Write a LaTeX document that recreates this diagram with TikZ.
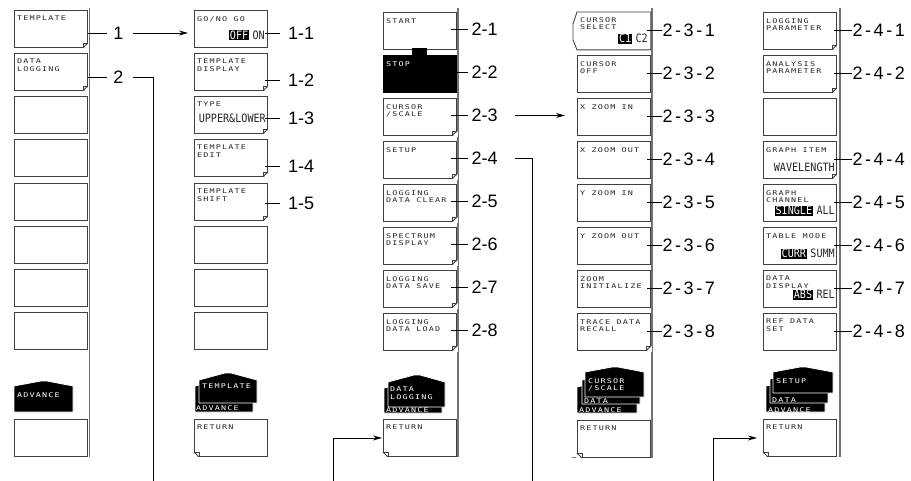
\documentclass[tikz,border=0pt]{standalone}
\usepackage{fontspec}
\setmainfont{Liberation Sans}
\newfontfamily\btnfont[FakeStretch=1.3,LetterSpace=18]{DejaVu Sans Mono}
\newfontfamily\bigfont[FakeStretch=0.88]{DejaVu Sans Mono}
\newfontfamily\widelbl[LetterSpace=14]{Liberation Sans}
\usetikzlibrary{arrows.meta}
\tikzset{
 btnline/.style={draw=black!75, line width=0.9pt},
 btn/.style={btnline, fill=white, minimum width=73pt, minimum height=37pt, inner sep=0pt, anchor=north west},
 stxt/.style={font=\btnfont\fontsize{6.5}{7.5}\selectfont, text=black!85, align=left, anchor=north west, inner sep=0pt},
 wtxt/.style={stxt, text=white},
 big/.style={font=\bigfont\fontsize{11.5}{12}\selectfont, text=black!85, inner sep=0pt, anchor=base east},
 inv/.style={big, fill=black, text=white, inner xsep=1pt, inner ysep=0.6pt},
 lbl/.style={font=\fontsize{18}{18}\selectfont, inner sep=0pt},
 wlbl/.style={font=\widelbl\fontsize{18}{18}\selectfont, inner sep=0pt},
 rail/.style={draw=black!55, line width=1.6pt},
 leader/.style={draw=black, line width=0.9pt},
 conn/.style={draw=black, line width=0.9pt},
 arr/.style={conn, -{Stealth[length=9pt,width=5pt]}},
 stack/.style={fill=black, draw=white, line width=0.8pt},
 fold/.style={draw=black!75, line width=0.6pt},
}
\newcommand\Btn[4]{\node[btn] (#1) at (#2,#3) {};\node[stxt] (#1t) at ([shift={(3pt,-6pt)}]#1.north west) {#4};}
\newcommand\Blank[3]{\node[btn] (#1) at (#2,#3) {};}
\newcommand\FoldR[1]{%
 \fill[white] ([shift={(-5pt,-1pt)}]#1.south east) -- ([shift={(1pt,-1pt)}]#1.south east) -- ([shift={(1pt,5pt)}]#1.south east) -- cycle;
 \draw[btnline] ([xshift=-5pt]#1.south east) -- ([yshift=5pt]#1.south east);
 \draw[fold] ([xshift=-5pt]#1.south east) -- ([shift={(-5pt,5pt)}]#1.south east) -- ([yshift=5pt]#1.south east);}
\newcommand\FoldL[1]{%
 \fill[white] ([shift={(5pt,-1pt)}]#1.south west) -- ([shift={(-1pt,-1pt)}]#1.south west) -- ([shift={(-1pt,5pt)}]#1.south west) -- cycle;
 \draw[btnline] ([xshift=5pt]#1.south west) -- ([yshift=5pt]#1.south west);
 \draw[fold] ([xshift=5pt]#1.south west) -- ([shift={(5pt,5pt)}]#1.south west) -- ([yshift=5pt]#1.south west);}
% x1, x2, side top, peak top, peak x, bottom
\newcommand\House[6]{\path[stack] (#1,#3) -- ({#5-3},#4) -- ({#5+3},#4) -- (#2,#3) -- (#2,#6) -- (#1,#6) -- cycle;}
\begin{document}
\begin{tikzpicture}[x=1pt,y=-1pt]
\useasboundingbox (0,0) rectangle (911,481);
% rails
\draw[rail] (89.5,8) -- (89.5,457);
\draw[rail] (458,8) -- (458,457);
\draw[rail] (572,457.5) -- (652,457.5) -- (652,8);
\draw[rail] (840,8) -- (840,457);

% ---------- column 1
\Btn{c1b1}{14}{10}{TEMPLATE}
\Btn{c1b2}{14}{53}{DATA\\LOGGING}
\Blank{c1b3}{14}{96}
\Blank{c1b4}{14}{139}
\Blank{c1b5}{14}{183}
\Blank{c1b6}{14}{226}
\Blank{c1b7}{14}{269}
\Blank{c1b8}{14}{312}
\Blank{c1ret}{14}{419}
\FoldR{c1b1}\FoldR{c1b2}
\House{14}{73}{386}{381}{44}{412}
\node[wtxt] (s1a) at (17,392) {ADVANCE};

% ---------- column 2
\Btn{c2b1}{194}{10}{GO/NO GO}
\node[big] (c2on) at (265,39.5) {ON};
\node[inv] (c2off) at ([xshift=-3pt]c2on.base west) {OFF};
\Btn{c2b2}{194}{53}{TEMPLATE\\DISPLAY}
\Btn{c2b3}{194}{96}{TYPE}
\node[big] (c2ul) at (266,123) {UPPER\&LOWER};
\Btn{c2b4}{194}{139}{TEMPLATE\\EDIT}
\Btn{c2b5}{194}{183}{TEMPLATE\\SHIFT}
\Blank{c2b6}{194}{226}
\Blank{c2b7}{194}{269}
\Blank{c2b8}{194}{312}
\Btn{c2ret}{194}{419}{RETURN}
\FoldR{c2b2}\FoldR{c2b3}\FoldR{c2b4}\FoldR{c2b5}\FoldL{c2ret}
\House{195}{253}{386}{380}{224}{412}
\House{199}{257}{380}{373}{228}{403}
\node[wtxt] (s2b) at (202,384) {TEMPLATE};
\node[wtxt] (s2a) at (196,405.5) {ADVANCE};

% ---------- column 3
\Btn{c3b1}{383}{12}{START}
\node[btn, fill=black, draw=black] (c3b2) at (383,55) {};
\fill[black] (412,48.5) rectangle (427,56);
\node[wtxt] (c3b2t) at ([shift={(3pt,-6pt)}]c3b2.north west) {STOP};
\Btn{c3b3}{383}{98}{CURSOR\\/SCALE}
\Btn{c3b4}{383}{141}{SETUP}
\Btn{c3b5}{383}{184}{LOGGING\\DATA CLEAR}
\Btn{c3b6}{383}{227}{SPECTRUM\\DISPLAY}
\Btn{c3b7}{383}{270}{LOGGING\\DATA SAVE}
\Btn{c3b8}{383}{313}{LOGGING\\DATA LOAD}
\Btn{c3ret}{383}{419}{RETURN}
\FoldR{c3b3}\FoldR{c3b4}\FoldR{c3b5}\FoldR{c3b6}\FoldR{c3b7}\FoldR{c3b8}\FoldL{c3ret}
\House{384}{442}{388}{382}{413}{413}
\House{388}{445}{382}{375}{417}{407}
\node[wtxt] (s3b) at (390,387) {DATA\\LOGGING};
\node[wtxt] (s3a) at (386,407.5) {ADVANCE};

% ---------- column 4
\node[btn, draw=none] (c4b1) at (577,12) {};
\draw[btnline] (c4b1.north west) -- (c4b1.north east) -- (c4b1.south east) -- (c4b1.south west) -- ++(-4,-10) -- ++(0,-16) -- cycle;
\node[stxt] (c4b1t) at ([shift={(3pt,-5pt)}]c4b1.north west) {CURSOR\\SELECT};
\node[big] (c4c2) at (648,43) {C2};
\node[inv] (c4c1) at ([xshift=-3pt]c4c2.base west) {C1};
\Btn{c4b2}{577}{55}{CURSOR\\OFF}
\Btn{c4b3}{577}{98}{X ZOOM IN}
\Btn{c4b4}{577}{141}{X ZOOM OUT}
\Btn{c4b5}{577}{184}{Y ZOOM IN}
\Btn{c4b6}{577}{227}{Y ZOOM OUT}
\Btn{c4b7}{577}{270}{ZOOM\\INITIALIZE}
\Btn{c4b8}{577}{313}{TRACE DATA\\RECALL}
\Btn{c4ret}{577}{420}{RETURN}
\FoldR{c4b8}\FoldL{c4ret}
\House{577}{637}{387}{381}{607}{413}
\House{582}{640}{380}{374}{611}{404}
\House{585}{644}{372}{367}{615}{397}
\node[wtxt] (s4c) at (588,378) {CURSOR\\/SCALE};
\node[wtxt] (s4b) at (584,398.5) {DATA};
\node[wtxt] (s4a) at (579,407.5) {ADVANCE};

% ---------- column 5
\Btn{c5b1}{763}{12}{LOGGING\\PARAMETER}
\Btn{c5b2}{763}{55}{ANALYSIS\\PARAMETER}
\Blank{c5b3}{763}{98}
\Btn{c5b4}{763}{141}{GRAPH ITEM}
\node[big] (c5wl) at (835,172) {WAVELENGTH};
\Btn{c5b5}{763}{184}{GRAPH\\CHANNEL}
\node[big] (c5all) at (835,215) {ALL};
\node[inv] (c5sgl) at ([xshift=-3pt]c5all.base west) {SINGLE};
\Btn{c5b6}{763}{227}{TABLE MODE}
\node[big] (c5summ) at (835,258) {SUMM};
\node[inv] (c5curr) at ([xshift=-3pt]c5summ.base west) {CURR};
\Btn{c5b7}{763}{270}{DATA\\DISPLAY}
\node[big] (c5rel) at (835,299) {REL};
\node[inv] (c5abs) at ([xshift=-3pt]c5rel.base west) {ABS};
\Btn{c5b8}{763}{313}{REF DATA\\SET}
\Btn{c5ret}{763}{419}{RETURN}
\FoldR{c5b1}\FoldR{c5b2}\FoldR{c5b4}\FoldL{c5ret}
\House{766}{825}{386}{380}{795}{412}
\House{770}{828}{379}{373}{799}{403}
\House{773}{833}{372}{367}{803}{393}
\node[wtxt] (s5c) at (776,378) {SETUP};
\node[wtxt] (s5b) at (772,398) {DATA};
\node[wtxt] (s5a) at (768,407) {ADVANCE};

% ---------- labels
\node[lbl] (L1) at (118.5,33) {1};
\node[lbl] (L2) at (118.5,77) {2};
\foreach \n/\y in {1/33,2/80.5,3/118,4/166,5/203}
  \node[lbl, anchor=west] (L1\n) at (288,\y) {1-\n};
\foreach \n in {1,...,8}
  \node[lbl, anchor=west] (L2\n) at (471.5,{29.5+43*(\n-1)}) {2-\n};
\foreach \n in {1,...,8}
  \node[wlbl, anchor=west] (L23\n) at (662.5,{30+43*(\n-1)}) {2-3-\n};
\foreach \n in {1,2,4,5,6,7,8}
  \node[wlbl, anchor=west] (L24\n) at (852.5,{30+43*(\n-1)}) {2-4-\n};

% ---------- leaders
\draw[leader, shorten <=6.5pt] (L1.west) -- (L1.west -| c1b1.east);
\draw[leader, shorten <=6.5pt] (L2.west) -- (L2.west -| c1b2.east);
\foreach \n in {1,...,5}
  \draw[leader, shorten <=8pt, shorten >=-3pt] (L1\n.west) -- (L1\n.west -| c2b1.east);
\foreach \n in {1,...,8}
  \draw[leader, shorten <=3.5pt, shorten >=-6pt] (L2\n.west) -- (L2\n.west -| c3b1.east);
\foreach \n in {1,...,8}
  \draw[leader, shorten <=1pt, shorten >=-4pt] (L23\n.west) -- (L23\n.west -| c4b2.east);
\foreach \n in {1,2,4,5,6,7,8}
  \draw[leader, shorten <=1pt, shorten >=-3pt] (L24\n.west) -- (L24\n.west -| c5b1.east);

% ---------- connectors
\coordinate (d2) at (153,481);
\coordinate (d24) at (532,481);
\coordinate (u3) at (333,481);
\coordinate (u5) at (713,481);
\draw[arr, shorten <=9pt, shorten >=6pt] (L1.east) -- (L1.east -| c2b1.west);
\draw[conn, shorten <=9pt] (L2.east) -| (d2);
\draw[arr, shorten <=17.5pt, shorten >=12pt] (L23.east) -- (L23.east -| c4b3.west);
\draw[conn, shorten <=17.5pt] (L24.east) -| (d24);
\draw[arr, shorten >=1pt] (u3) |- (c3ret.west);
\draw[arr, shorten >=6pt] (u5) |- (c5ret.west);
\end{tikzpicture}
\end{document}
